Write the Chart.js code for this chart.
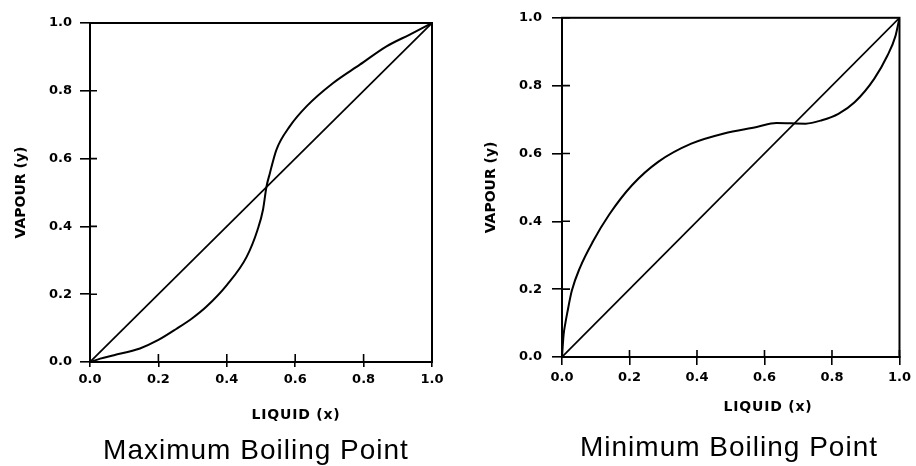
<!DOCTYPE html>
<html>
<head>
<meta charset="utf-8">
<script src="https://cdn.jsdelivr.net/npm/chart.js@4.4.1/dist/chart.umd.min.js"></script>
<style>
  body { margin: 0; background: #fff; }
  #wrap { position: relative; width: 916px; height: 466px; overflow: hidden; }
  canvas { position: absolute; top: 0; }
  .axis-title { position: absolute; font: bold 14px "DejaVu Sans"; line-height: 14px; letter-spacing: 0.8px; transform: translateX(-50%); white-space: nowrap; color: #000; }
  .caption { position: absolute; font: 28px "Liberation Sans", Arial; line-height: 28px; letter-spacing: 1px; transform: translateX(-50%); white-space: nowrap; color: #000; }
</style>
</head>
<body>
<div id="wrap">
  <canvas id="maxChart" width="458" height="466" style="left:0"></canvas>
  <canvas id="minChart" width="458" height="466" style="left:458px"></canvas>
  <div class="axis-title" style="left:296px;top:407px">LIQUID (x)</div>
  <div class="axis-title" style="left:768px;top:399px">LIQUID (x)</div>
  <div class="caption" style="left:256px;top:436px">Maximum Boiling Point</div>
  <div class="caption" style="left:729px;top:433px">Minimum Boiling Point</div>
</div>
<script>
// axis ticks, both charts
const tickValues = [0, 0.2, 0.4, 0.6, 0.8, 1.0];
const tickLabels = ['0.0', '0.2', '0.4', '0.6', '0.8', '1.0'];

// x = y reference line
const diagX = [0, 1];
const diagY = [0, 1];

// maximum boiling point (negative deviation)
const maxLiquid = [0, 0.03, 0.07, 0.146, 0.2, 0.253, 0.3, 0.34, 0.4, 0.458, 0.49, 0.506, 0.516, 0.526, 0.545, 0.584, 0.633, 0.711, 0.789, 0.867, 0.935, 1];
const maxVapour = [0, 0.01, 0.02, 0.04, 0.065, 0.098, 0.13, 0.163, 0.227, 0.31, 0.39, 0.45, 0.517, 0.557, 0.626, 0.695, 0.754, 0.823, 0.877, 0.931, 0.966, 1];

// minimum boiling point (positive deviation)
const minLiquid = [0, 0.002, 0.005, 0.01, 0.015, 0.029, 0.053, 0.092, 0.14, 0.208, 0.286, 0.383, 0.48, 0.577, 0.635, 0.722, 0.77, 0.819, 0.867, 0.925, 0.964, 0.988, 1];
const minVapour = [0, 0.03, 0.068, 0.1, 0.127, 0.195, 0.263, 0.341, 0.42, 0.507, 0.576, 0.629, 0.659, 0.678, 0.69, 0.688, 0.698, 0.717, 0.751, 0.82, 0.888, 0.946, 1];

const toPoints = (xs, ys) => xs.map((x, i) => ({ x: x, y: ys[i] }));

const tickFont = { family: 'DejaVu Sans', weight: 'bold', size: 13 };

// box round the plot + the part of each tick mark that sits inside it
const frameTicks = {
  id: 'frameTicks',
  afterDatasetsDraw(chart, args, opts) {
    const { ctx, chartArea: a, scales: { x, y } } = chart;
    ctx.save();
    ctx.strokeStyle = '#000';
    ctx.lineWidth = 2;
    ctx.strokeRect(a.left, a.top, a.right - a.left, a.bottom - a.top);
    ctx.lineWidth = 1.6;
    ctx.beginPath();
    x.ticks.forEach(t => {
      const px = x.getPixelForValue(t.value);
      ctx.moveTo(px, a.bottom);
      ctx.lineTo(px, a.bottom - opts.xIn);
    });
    y.ticks.forEach(t => {
      const py = y.getPixelForValue(t.value);
      ctx.moveTo(a.left, py);
      ctx.lineTo(a.left + opts.yIn, py);
    });
    ctx.stroke();
    ctx.restore();
  }
};

function makeChart(id, xs, ys, lay) {
  const ctx = document.getElementById(id).getContext('2d');
  return new Chart(ctx, {
    type: 'scatter',
    data: {
      datasets: [
        {
          data: toPoints(diagX, diagY),
          showLine: true,
          borderColor: '#000',
          borderWidth: 1.7,
          pointRadius: 0
        },
        {
          data: toPoints(xs, ys),
          showLine: true,
          borderColor: '#000',
          borderWidth: 2,
          pointRadius: 0,
          cubicInterpolationMode: 'monotone'
        }
      ]
    },
    options: {
      responsive: false,
      animation: false,
      layout: { padding: { left: 0, top: lay.top, right: lay.right, bottom: 0 } },
      plugins: {
        legend: { display: false },
        tooltip: { enabled: false },
        frameTicks: { xIn: lay.xIn, yIn: lay.yIn }
      },
      scales: {
        x: {
          type: 'linear',
          min: 0,
          max: 1,
          afterBuildTicks: s => { s.ticks = tickValues.map(v => ({ value: v })); },
          afterFit: s => { s.height = lay.xHeight; },
          grid: { drawOnChartArea: false, color: '#000', lineWidth: 1.6, tickLength: lay.xOut },
          border: { display: true, color: '#000', width: 2 },
          ticks: {
            color: '#000',
            font: tickFont,
            padding: 5,
            maxRotation: 0,
            callback: (v, i) => tickLabels[i]
          }
        },
        y: {
          type: 'linear',
          min: 0,
          max: 1,
          afterBuildTicks: s => { s.ticks = tickValues.map(v => ({ value: v })); },
          afterFit: s => { s.width = lay.yWidth; },
          grid: { drawOnChartArea: false, color: '#000', lineWidth: 1.6, tickLength: 10 },
          border: { display: true, color: '#000', width: 2 },
          ticks: {
            color: '#000',
            font: tickFont,
            padding: lay.yPad,
            callback: (v, i) => tickLabels[i]
          },
          title: {
            display: true,
            text: 'VAPOUR (y)',
            color: '#000',
            font: { family: 'DejaVu Sans', weight: 'bold', size: 14 },
            padding: { top: lay.yTitle, bottom: 0 }
          }
        }
      }
    },
    plugins: [frameTicks]
  });
}

makeChart('maxChart', maxLiquid, maxVapour, {
  top: 23, right: 26, xHeight: 104, yWidth: 90, yPad: 8, yTitle: 13, xOut: 5, xIn: 8, yIn: 7
});
makeChart('minChart', minLiquid, minVapour, {
  top: 15, right: 10, xHeight: 109, yWidth: 104, yPad: 10, yTitle: 25, xOut: 8, xIn: 7, yIn: 8
});
</script>
</body>
</html>
